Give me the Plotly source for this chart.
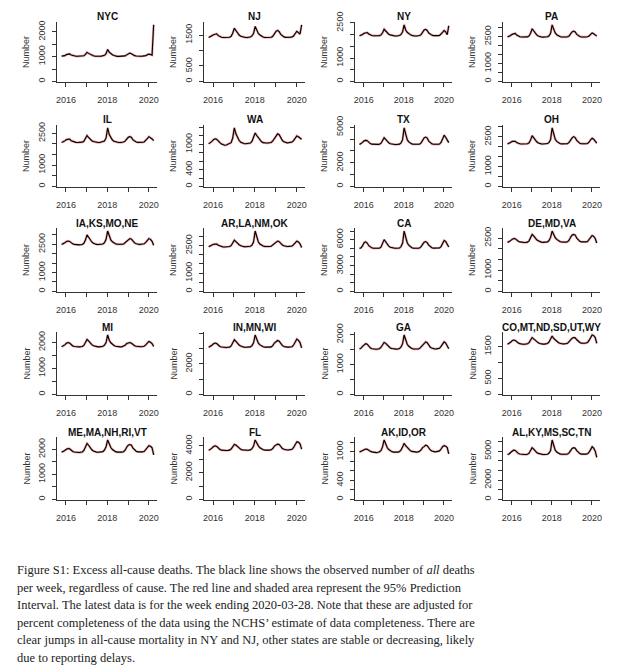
import pandas as pd
import plotly.graph_objects as go

# 4-weekly sample dates (weeks ending), Oct 2015 .. 2020-03-28
dates = pd.date_range("2015-10-17", "2020-03-28", freq="28D")

titles = ["NYC", "NJ", "NY", "PA",
          "IL", "WA", "TX", "OH",
          "IA,KS,MO,NE", "AR,LA,NM,OK", "CA", "DE,MD,VA",
          "MI", "IN,MN,WI", "GA", "CO,MT,ND,SD,UT,WY",
          "ME,MA,NH,RI,VT", "FL", "AK,ID,OR", "AL,KY,MS,SC,TN"]

NYC = [1020, 1025, 1040,
       1080, 1100, 1110, 1065, 1040, 1025, 1015, 1015, 1015, 1018, 1020, 1035, 1090,
       1170, 1130, 1090, 1060, 1035, 1020, 1012, 1012, 1012, 1020, 1023, 1050, 1115,
       1290, 1180, 1115, 1075, 1045, 1020, 1010, 1010, 1010, 1015, 1020, 1030, 1070,
       1120, 1140, 1115, 1070, 1040, 1025, 1015, 1015, 1015, 1020, 1025, 1040, 1070,
       1100, 1085, 1060, 2280]
NJ = [1420, 1440, 1480,
      1510, 1530, 1540, 1480, 1450, 1430, 1420, 1420, 1420, 1425, 1430, 1460, 1560,
      1720, 1640, 1560, 1500, 1460, 1440, 1425, 1420, 1420, 1430, 1435, 1470, 1550,
      1780, 1640, 1550, 1500, 1460, 1435, 1420, 1420, 1420, 1425, 1430, 1460, 1540,
      1620, 1650, 1610, 1520, 1470, 1440, 1425, 1420, 1425, 1430, 1440, 1470, 1550,
      1620, 1580, 1530, 1830]
NY = [1950, 1970, 2010,
      2060, 2080, 2090, 2030, 1990, 1965, 1950, 1950, 1950, 1955, 1960, 1990, 2080,
      2230, 2150, 2070, 2020, 1990, 1965, 1950, 1945, 1945, 1955, 1965, 2010, 2120,
      2420, 2200, 2100, 2040, 2000, 1970, 1950, 1945, 1945, 1950, 1960, 2000, 2110,
      2200, 2230, 2180, 2070, 2010, 1980, 1960, 1950, 1955, 1960, 1970, 2020, 2100,
      2180, 2120, 2000, 2380]
PA = [2470, 2500, 2560,
      2620, 2650, 2670, 2580, 2520, 2490, 2470, 2465, 2465, 2470, 2480, 2530, 2680,
      2930, 2810, 2680, 2590, 2530, 2490, 2470, 2465, 2465, 2475, 2485, 2540, 2680,
      3150, 2870, 2700, 2600, 2540, 2500, 2475, 2465, 2465, 2470, 2485, 2530, 2650,
      2760, 2800, 2750, 2620, 2540, 2500, 2475, 2465, 2470, 2475, 2490, 2530, 2620,
      2700, 2650, 2580, 2520]
IL = [2070, 2090, 2140,
      2200, 2220, 2230, 2150, 2110, 2085, 2070, 2065, 2065, 2070, 2080, 2120, 2240,
      2390, 2300, 2210, 2150, 2110, 2085, 2070, 2065, 2065, 2075, 2085, 2130, 2280,
      2750, 2440, 2270, 2180, 2120, 2090, 2070, 2065, 2065, 2070, 2085, 2130, 2230,
      2310, 2340, 2300, 2190, 2120, 2090, 2070, 2065, 2070, 2075, 2090, 2150, 2250,
      2340, 2300, 2230, 2150]
WA = [1010, 1030, 1070,
      1110, 1130, 1120, 1070, 1040, 1010, 990, 980, 985, 1000, 1010, 1040, 1150,
      1390, 1250, 1150, 1090, 1050, 1030, 1020, 1015, 1015, 1020, 1030, 1070, 1150,
      1270, 1210, 1160, 1100, 1060, 1040, 1030, 1030, 1030, 1035, 1045, 1080, 1140,
      1200, 1250, 1230, 1150, 1090, 1060, 1040, 1035, 1040, 1045, 1055, 1090, 1150,
      1200, 1180, 1140, 1120]
TX = [3540, 3600, 3720,
      3850, 3890, 3860, 3700, 3620, 3570, 3550, 3545, 3545, 3550, 3560, 3650, 3880,
      4110, 3980, 3800, 3680, 3610, 3570, 3550, 3545, 3545, 3555, 3570, 3680, 3950,
      4940, 4350, 3950, 3760, 3650, 3590, 3560, 3550, 3550, 3555, 3570, 3680, 3900,
      4100, 4170, 4080, 3830, 3680, 3600, 3565, 3550, 3555, 3560, 3580, 3720, 4000,
      4330, 4150, 3950, 3700]
OH = [2140, 2170, 2220,
      2270, 2290, 2280, 2210, 2170, 2150, 2140, 2135, 2135, 2140, 2150, 2200, 2340,
      2560, 2450, 2330, 2250, 2190, 2160, 2145, 2140, 2140, 2150, 2160, 2220, 2360,
      2950, 2580, 2380, 2270, 2200, 2165, 2145, 2140, 2140, 2145, 2160, 2220, 2360,
      2450, 2510, 2460, 2320, 2220, 2175, 2150, 2140, 2145, 2150, 2165, 2230, 2350,
      2430, 2380, 2290, 2180]
IA_KS_MO_NE = [2490, 2520, 2580,
               2640, 2670, 2650, 2570, 2520, 2490, 2470, 2465, 2465, 2475, 2490, 2550, 2720,
               3000, 2860, 2720, 2620, 2550, 2510, 2490, 2485, 2485, 2495, 2510, 2580, 2760,
               3200, 2900, 2730, 2630, 2560, 2520, 2495, 2485, 2485, 2495, 2510, 2580, 2700,
               2760, 2800, 2770, 2650, 2570, 2530, 2500, 2490, 2495, 2500, 2520, 2600, 2720,
               2800, 2760, 2650, 2450]
AR_LA_NM_OK = [2440, 2470, 2530,
               2580, 2600, 2590, 2520, 2480, 2450, 2430, 2425, 2425, 2435, 2450, 2500, 2640,
               2800, 2720, 2620, 2550, 2500, 2465, 2445, 2440, 2440, 2450, 2465, 2530, 2700,
               3300, 2920, 2700, 2590, 2520, 2480, 2455, 2445, 2445, 2455, 2470, 2540, 2660,
               2720, 2750, 2720, 2610, 2530, 2490, 2465, 2455, 2460, 2465, 2480, 2560, 2680,
               2750, 2700, 2600, 2400]
CA = [4980, 5050, 5300,
      5650, 5750, 5600, 5300, 5150, 5050, 5000, 4990, 4990, 5000, 5020, 5150, 5550,
      6000, 5750, 5450, 5250, 5120, 5050, 5010, 5000, 5000, 5010, 5030, 5200, 5600,
      7000, 6200, 5650, 5350, 5170, 5070, 5020, 5000, 5000, 5010, 5030, 5180, 5450,
      5700, 5780, 5650, 5350, 5150, 5060, 5020, 5010, 5010, 5020, 5040, 5200, 5550,
      5900, 5800, 5500, 5150]
DE_MD_VA = [2290, 2320, 2380,
            2440, 2480, 2470, 2400, 2350, 2320, 2300, 2295, 2295, 2300, 2310, 2370, 2500,
            2670, 2600, 2500, 2420, 2370, 2330, 2310, 2300, 2300, 2310, 2320, 2390, 2530,
            2830, 2650, 2520, 2440, 2380, 2340, 2315, 2305, 2305, 2310, 2325, 2400, 2540,
            2640, 2670, 2640, 2500, 2400, 2350, 2320, 2310, 2315, 2320, 2335, 2420, 2540,
            2620, 2580, 2480, 2270]
MI = [1830, 1850, 1900,
      1960, 1990, 1970, 1900, 1860, 1840, 1830, 1825, 1825, 1830, 1840, 1880, 1980,
      2110, 2050, 1970, 1910, 1870, 1845, 1830, 1825, 1825, 1835, 1845, 1890, 1990,
      2280, 2080, 1980, 1920, 1875, 1850, 1835, 1825, 1825, 1830, 1845, 1885, 1950,
      1970, 1990, 1960, 1900, 1865, 1845, 1835, 1830, 1830, 1835, 1850, 1900, 1980,
      2030, 2000, 1950, 1840]
IN_MN_WI = [3090, 3130, 3220,
            3320, 3370, 3340, 3220, 3150, 3110, 3090, 3080, 3080, 3090, 3100, 3180, 3380,
            3590, 3480, 3340, 3240, 3170, 3120, 3100, 3090, 3090, 3100, 3120, 3200, 3380,
            3900, 3550, 3360, 3250, 3170, 3130, 3100, 3090, 3090, 3100, 3120, 3200, 3370,
            3490, 3540, 3490, 3330, 3200, 3140, 3110, 3100, 3105, 3110, 3130, 3240, 3420,
            3630, 3550, 3400, 3050]
GA = [1520, 1550, 1610,
      1670, 1700, 1680, 1600, 1560, 1530, 1515, 1510, 1510, 1520, 1530, 1580, 1670,
      1740, 1710, 1650, 1590, 1555, 1535, 1520, 1515, 1515, 1520, 1535, 1590, 1700,
      1990, 1800, 1680, 1610, 1565, 1540, 1520, 1515, 1515, 1520, 1535, 1590, 1680,
      1730, 1760, 1730, 1640, 1580, 1550, 1530, 1520, 1525, 1530, 1545, 1610, 1710,
      1760, 1720, 1640, 1530]
CO_MT_ND_SD_UT_WY = [1570, 1590, 1630,
                     1680, 1700, 1690, 1640, 1610, 1590, 1575, 1570, 1570, 1575, 1585, 1620, 1690,
                     1780, 1740, 1690, 1650, 1615, 1595, 1580, 1575, 1575, 1585, 1595, 1640, 1720,
                     1830, 1750, 1700, 1660, 1625, 1600, 1585, 1580, 1580, 1590, 1600, 1650, 1720,
                     1760, 1780, 1770, 1710, 1660, 1625, 1605, 1595, 1600, 1610, 1625, 1690, 1780,
                     1860, 1840, 1780, 1600]
ME_MA_NH_RI_VT = [1880, 1900, 1950,
                  2000, 2030, 2020, 1950, 1910, 1890, 1875, 1870, 1870, 1880, 1890, 1950, 2080,
                  2230, 2160, 2060, 1980, 1930, 1900, 1885, 1880, 1880, 1890, 1905, 1970, 2100,
                  2370, 2200, 2070, 1990, 1940, 1905, 1885, 1880, 1880, 1885, 1900, 1960, 2080,
                  2160, 2190, 2160, 2040, 1960, 1920, 1895, 1885, 1890, 1895, 1910, 1980, 2080,
                  2140, 2120, 2060, 1780]
FL = [3660, 3720, 3830,
      3950, 4000, 3960, 3820, 3730, 3680, 3660, 3650, 3650, 3660, 3680, 3760, 3950,
      4100, 4060, 3950, 3830, 3740, 3700, 3680, 3670, 3670, 3680, 3700, 3790, 3980,
      4440, 4200, 4000, 3860, 3760, 3710, 3685, 3675, 3675, 3685, 3705, 3800, 3980,
      4080, 4130, 4100, 3930, 3800, 3740, 3705, 3695, 3700, 3710, 3740, 3880, 4100,
      4300, 4280, 4150, 3750]
AK_ID_OR = [995, 1010, 1035,
            1050, 1060, 1055, 1030, 1015, 1000, 990, 985, 985, 990, 1000, 1030, 1110,
            1250, 1150, 1090, 1050, 1020, 1005, 995, 990, 990, 995, 1005, 1040, 1100,
            1180, 1130, 1090, 1055, 1025, 1010, 1000, 995, 995, 1000, 1010, 1040, 1090,
            1110, 1140, 1130, 1080, 1040, 1020, 1005, 1000, 1005, 1010, 1020, 1060, 1110,
            1130, 1120, 1090, 960]
AL_KY_MS_SC_TN = [4640, 4700, 4850,
                  5020, 5100, 5070, 4880, 4760, 4690, 4650, 4640, 4640, 4650, 4670, 4780, 5050,
                  5350, 5200, 5000, 4850, 4760, 4700, 4660, 4650, 4650, 4660, 4680, 4800, 5050,
                  6150, 5500, 5100, 4900, 4780, 4710, 4670, 4655, 4655, 4665, 4690, 4810, 5050,
                  5280, 5350, 5300, 5050, 4850, 4740, 4690, 4670, 4680, 4690, 4720, 4880, 5150,
                  5450, 5300, 5000, 4350]

series = [NYC, NJ, NY, PA, IL, WA, TX, OH, IA_KS_MO_NE, AR_LA_NM_OK, CA, DE_MD_VA,
          MI, IN_MN_WI, GA, CO_MT_ND_SD_UT_WY, ME_MA_NH_RI_VT, FL, AK_ID_OR, AL_KY_MS_SC_TN]

ytick_step = [500, 500, 500, 500, 500, 200, 1000, 500, 500, 500,
              1000, 500, 500, 1000, 500, 500, 500, 1000, 200, 1000]
ytick_labeled = [[0, 1000, 2000], [0, 500, 1500], [0, 1000, 2500], [0, 1000, 2500],
                 [0, 1000, 2500], [0, 400, 1000], [0, 2000, 5000], [0, 1000, 2500],
                 [0, 1000, 2500], [0, 1000, 2500], [0, 3000, 6000], [0, 1000, 2500],
                 [0, 1000, 2000], [0, 2000], [0, 1000, 2000], [0, 500, 1500],
                 [0, 1000, 2000], [0, 2000, 4000], [0, 400, 1000], [0, 2000, 5000]]

year_ticks = ["2016-01-01", "2017-01-01", "2018-01-01", "2019-01-01", "2020-01-01"]
year_labels = ["2016", "", "2018", "", "2020"]
x_range = ["2015-07-27", "2020-05-26"]

caption_lines = [
    "Figure S1: Excess all-cause deaths. The black line shows the observed number of <i>all</i> deaths",
    "per week, regardless of cause. The red line and shaded area represent the 95% Prediction",
    "Interval. The latest data is for the week ending 2020-03-28. Note that these are adjusted for",
    "percent completeness of the data using the NCHS\u2019 estimate of data completeness. There are",
    "clear jumps in all-cause mortality in NY and NJ, other states are stable or decreasing, likely",
    "due to reporting delays.",
]

# ---- layout geometry (pixels) ----
W, H = 640, 668
cols_left = [57, 204, 355, 503]
cols_w = [100, 101, 97, 97]
rows_top = [22, 125, 228, 332, 437]
rows_bot = [82, 187, 292, 395, 500]

AX = "#333333"
SANS = "Liberation Sans, Arial, sans-serif"
SERIF = "Liberation Serif, Times New Roman, serif"

fig = go.Figure()
layout = dict(width=W, height=H, margin=dict(l=0, r=0, t=0, b=0, autoexpand=False),
              paper_bgcolor="white", plot_bgcolor="white", showlegend=False,
              template="none")
annotations = []

for i, (name, vals) in enumerate(zip(titles, series)):
    r, c = divmod(i, 4)
    k = i + 1
    xa = "x" if k == 1 else f"x{k}"
    ya = "y" if k == 1 else f"y{k}"
    fig.add_trace(go.Scatter(x=dates, y=vals, mode="lines",
                             line=dict(color="rgba(205,50,50,0.45)", width=2.4),
                             xaxis=xa, yaxis=ya, hoverinfo="skip"))
    fig.add_trace(go.Scatter(x=dates, y=vals, mode="lines",
                             line=dict(color="black", width=1.1),
                             xaxis=xa, yaxis=ya))
    x0 = cols_left[c] / W
    x1 = (cols_left[c] + cols_w[c]) / W
    y0 = 1 - rows_bot[r] / H
    y1 = 1 - rows_top[r] / H
    M = max(vals)
    top = M * 1.05
    step = ytick_step[i]
    tv = list(range(0, int(top) + 1, step))
    tt = [str(v) if v in ytick_labeled[i] else "" for v in tv]
    layout["xaxis" if k == 1 else f"xaxis{k}"] = dict(
        domain=[x0, x1], anchor=ya, type="date", range=x_range, automargin=False,
        tickmode="array", tickvals=year_ticks, ticktext=year_labels,
        ticks="outside", ticklen=4, tickcolor=AX, tickwidth=1,
        showline=True, linecolor=AX, linewidth=1, showgrid=False, zeroline=False,
        tickfont=dict(family=SANS, size=9, color="#333"), ticklabelstandoff=5)
    layout["yaxis" if k == 1 else f"yaxis{k}"] = dict(
        domain=[y0, y1], anchor=xa, range=[-0.01 * M, top], automargin=False,
        tickmode="array", tickvals=tv, ticktext=tt, tickangle=-90,
        ticks="outside", ticklen=4, tickcolor=AX, tickwidth=1,
        showline=True, linecolor=AX, linewidth=1, showgrid=False, zeroline=False,
        tickfont=dict(family=SANS, size=9, color="#333"), ticklabelstandoff=3)
    annotations.append(dict(text=f"<b>{name}</b>", xref="paper", yref="paper",
                            x=(x0 + x1) / 2, y=1 - (rows_top[r] - 5) / H,
                            xanchor="center", yanchor="middle", showarrow=False,
                            font=dict(family=SANS, size=10, color="#111")))
    annotations.append(dict(text="Number", xref="paper", yref="paper",
                            x=(cols_left[c] - 31) / W, y=(y0 + y1) / 2, textangle=-90,
                            xanchor="center", yanchor="middle", showarrow=False,
                            font=dict(family=SANS, size=9, color="#333")))

for j, line in enumerate(caption_lines):
    annotations.append(dict(text=line, xref="paper", yref="paper",
                            x=15 / W, y=1 - (570 + 17.5 * j) / H,
                            xanchor="left", yanchor="middle", align="left",
                            showarrow=False,
                            font=dict(family=SERIF, size=12.5, color="#222")))

layout["annotations"] = annotations
fig.update_layout(**layout)
fig.write_html("out.html", config={"displayModeBar": False},
               post_script="document.body.style.margin='0';")
